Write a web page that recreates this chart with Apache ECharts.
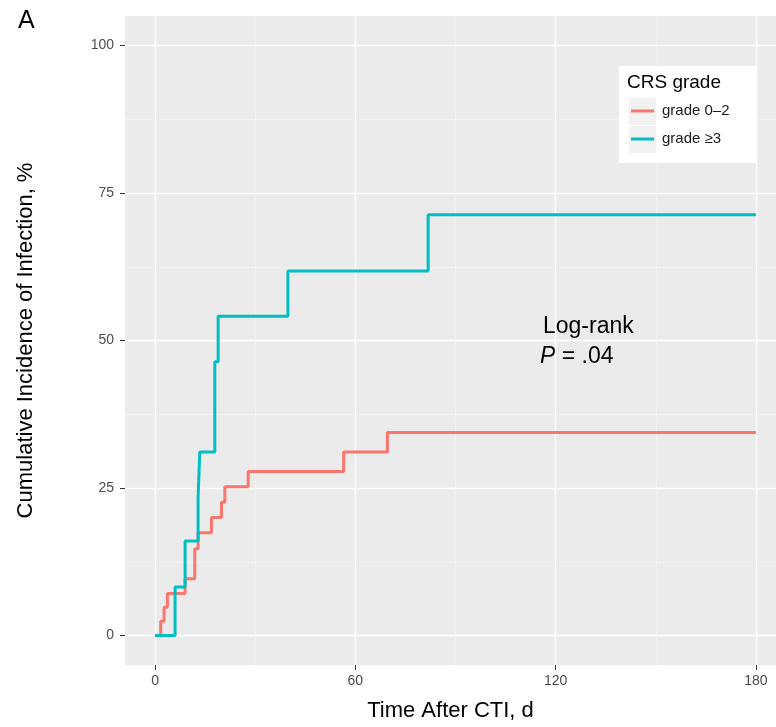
<!DOCTYPE html>
<html>
<head>
<meta charset="utf-8">
<script src="https://cdn.jsdelivr.net/npm/echarts@6/dist/echarts.min.js"></script>
<style>
  html, body { margin: 0; padding: 0; background: #fff; }
  #chart { width: 776px; height: 727px; }
</style>
</head>
<body>
<div id="chart"></div>
<script>
// step points: time (d) and cumulative incidence (%)
var timeLow = [0, 1.7, 2.7, 3.7, 9, 11.9, 12.9, 16.9, 19.9, 20.9, 27.9, 56.5, 69.6, 180];
var incLow = [0, 2.4, 4.8, 7.1, 9.6, 14.7, 17.4, 20.0, 22.6, 25.2, 27.8, 31.1, 34.4, 34.4];
var timeHigh = [0, 6, 9, 12.9, 13.4, 17.9, 18.9, 39.8, 81.8, 180];
var incHigh = [0, 8.2, 16.0, 23.5, 31.1, 46.4, 54.1, 61.8, 71.3, 71.3];
var seriesNames = ['grade 0\u20132', 'grade \u22653'];
var seriesColors = ['#F8766D', '#00BFC4'];
var xTicks = [0, 60, 120, 180];
var xMinor = [30, 90, 150];
var yTicks = [0, 25, 50, 75, 100];
var yMinor = [12.5, 37.5, 62.5, 87.5];

var FONT = '"Liberation Sans", Arial, sans-serif';

function pairs(xs, ys) {
    var out = [];
    for (var i = 0; i < xs.length; i++) out.push([xs[i], ys[i]]);
    return out;
}

var chart = echarts.init(document.getElementById('chart'));

var option = {
    animation: false,
    textStyle: { fontFamily: FONT },
    grid: {
        left: 125, right: 0, top: 16, bottom: 61,
        show: true, backgroundColor: '#EBEBEB', borderWidth: 0
    },
    xAxis: [{
        type: 'value', min: -9, max: 186,
        name: 'Time After CTI, d', nameLocation: 'middle', nameGap: 35,
        nameTextStyle: { fontSize: 22, color: '#000', fontFamily: FONT },
        axisLine: { show: false, onZero: false },
        axisTick: { show: true, customValues: xTicks, length: 5, lineStyle: { color: '#333', width: 1 } },
        axisLabel: { customValues: xTicks, color: '#4D4D4D', fontSize: 14, margin: 9, fontFamily: FONT },
        splitLine: { show: true, lineStyle: { color: '#fff', width: 1.4 } }
    }, {
        type: 'value', min: -9, max: 186, gridIndex: 0,
        axisLine: { show: false, onZero: false },
        axisTick: { show: false, customValues: xMinor },
        axisLabel: { show: false, customValues: xMinor },
        splitLine: { show: true, lineStyle: { color: '#F5F5F5', width: 0.7 } }
    }],
    yAxis: [{
        type: 'value', min: -5, max: 105,
        name: 'Cumulative Incidence of Infection, %', nameLocation: 'middle', nameGap: 88, nameRotate: 90,
        nameTextStyle: { fontSize: 22, color: '#000', fontFamily: FONT },
        axisLine: { show: false, onZero: false },
        axisTick: { show: true, customValues: yTicks, length: 5, lineStyle: { color: '#333', width: 1 } },
        axisLabel: { customValues: yTicks, color: '#4D4D4D', fontSize: 14, margin: 11, fontFamily: FONT },
        splitLine: { show: true, lineStyle: { color: '#fff', width: 1.4 } }
    }, {
        type: 'value', min: -5, max: 105, gridIndex: 0,
        axisLine: { show: false, onZero: false },
        axisTick: { show: false, customValues: yMinor },
        axisLabel: { show: false, customValues: yMinor },
        splitLine: { show: true, lineStyle: { color: '#F5F5F5', width: 0.7 } }
    }],
    legend: {
        orient: 'vertical', left: 631, top: 97, padding: 0, itemGap: 0,
        itemWidth: 23, itemHeight: 3, icon: 'rect', z: 20,
        data: seriesNames,
        textStyle: { fontSize: 15, color: '#1a1a1a', lineHeight: 28, padding: [0, 0, 0, 3], fontFamily: FONT }
    },
    graphic: [
        { type: 'text', left: 18, top: 9, style: { text: 'A', fontSize: 25, fill: '#000', fontFamily: FONT } },
        { type: 'rect', left: 619, top: 66, z: 10, shape: { width: 138, height: 97 }, style: { fill: '#fff' } },
        { type: 'text', left: 627, top: 73, z: 11, style: { text: 'CRS grade', fontSize: 19, fill: '#000', fontFamily: FONT } },
        { type: 'rect', left: 629, top: 98, z: 11, shape: { width: 27, height: 27 }, style: { fill: '#F2F2F2' } },
        { type: 'rect', left: 629, top: 126, z: 11, shape: { width: 27, height: 27 }, style: { fill: '#F2F2F2' } },
        { type: 'text', left: 543, top: 315, style: { text: 'Log-rank', fontSize: 23, fill: '#000', fontFamily: FONT } },
        { type: 'text', left: 540, top: 345, style: {
            text: '{i|P} = .04', fontSize: 23, fill: '#000', fontFamily: FONT,
            rich: { i: { fontStyle: 'italic', fontSize: 23, fontFamily: FONT } }
        } }
    ],
    series: [{
        name: seriesNames[0], type: 'line', step: 'end', showSymbol: false,
        data: pairs(timeLow, incLow),
        lineStyle: { color: seriesColors[0], width: 3 }, itemStyle: { color: seriesColors[0] }
    }, {
        name: seriesNames[1], type: 'line', step: 'end', showSymbol: false,
        data: pairs(timeHigh, incHigh),
        lineStyle: { color: seriesColors[1], width: 3 }, itemStyle: { color: seriesColors[1] }
    }]
};
chart.setOption(option);
</script>
</body>
</html>
